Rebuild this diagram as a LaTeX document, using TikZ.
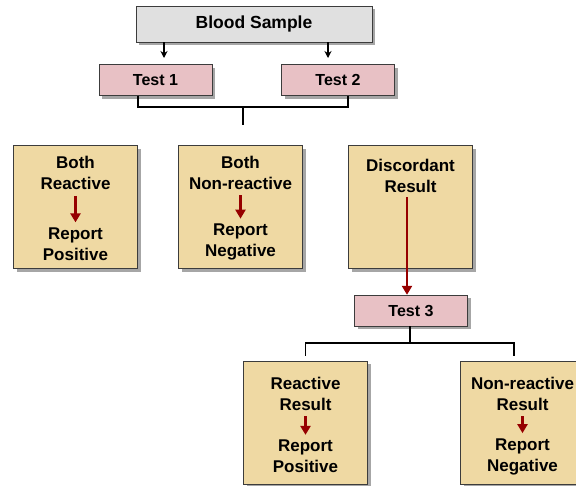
\documentclass[tikz,border=0pt]{standalone}
\usepackage{fontspec}
\setmainfont{Liberation Sans}
\usetikzlibrary{shadows,arrows.meta}
\definecolor{papyrus}{RGB}{239,217,163}
\definecolor{testpink}{RGB}{232,193,197}
\definecolor{marble}{RGB}{224,224,224}
\definecolor{edgegray}{RGB}{60,60,60}
\definecolor{arrowred}{RGB}{150,0,0}

\begin{document}
\begin{tikzpicture}[
        x=1pt, y=-1pt,
        boldtext/.style={font=\fontsize{17}{21}\selectfont\bfseries},
        sample/.style={rectangle, draw=edgegray, fill=marble, minimum width=236pt, minimum height=36pt, font=\fontsize{17.5}{21}\selectfont\bfseries, drop shadow={shadow xshift=3pt, shadow yshift=-3pt, fill=gray, opacity=0.7}},
        test/.style={rectangle, draw=edgegray, fill=testpink, minimum width=113pt, minimum height=31pt, font=\fontsize{16}{20}\selectfont\bfseries, drop shadow={shadow xshift=3pt, shadow yshift=-3pt, fill=gray, opacity=0.7}},
        result/.style={rectangle, draw=edgegray, fill=papyrus, minimum width=124pt, minimum height=123pt, drop shadow={shadow xshift=3pt, shadow yshift=-3pt, fill=gray, opacity=0.7}},
        label/.style={align=center, inner sep=1pt, boldtext},
        feed/.style={-{Stealth[length=7pt, width=7pt]}, line width=1.3pt, black},
        report/.style={-{Triangle[length=9pt, width=10pt]}, line width=2.8pt, color=arrowred},
        bracket/.style={line width=1.7pt, black}
    ]
    \useasboundingbox (0,0) rectangle (576,485);

    % Sample and first two tests
    \node[sample] (blood) at (254,24) {Blood Sample};
    \node[test] (test1) at (155.5,80) {Test 1};
    \node[test] (test2) at (338,80) {Test 2};
    \coordinate (in1) at (164,58);
    \coordinate (in2) at (328,58);
    \draw[feed] (blood.south -| in1) -- (in1);
    \draw[feed] (blood.south -| in2) -- (in2);

    % Join of Test 1 and Test 2
    \coordinate (join1) at (243,107);
    \draw[bracket] ([xshift=-17.5pt]test1.south) |- (join1) -| ([xshift=10pt]test2.south);
    \draw[bracket] (join1) -- ++(0,18);

    % Outcome boxes
    \node[result] (both) at (75.5,207) {};
    \node[label] (bothtop) at (75.5,173) {Both\\Reactive};
    \node[label] (bothbot) at (75.5,244) {Report\\Positive};
    \draw[report, shorten <=5pt, shorten >=4pt] (bothtop) -- (bothbot);

    \node[result] (none) at (240.5,207) {};
    \node[label] (nonetop) at (240.5,172.5) {Both\\Non-reactive};
    \node[label] (nonebot) at (240.5,242) {Report\\Negative};
    \draw[report, shorten <=5pt, shorten >=4pt] (nonetop) -- (nonebot);

    \node[result] (disc) at (410.5,207) {};
    \node[label] (disctop) at (410.5,175.5) {Discordant\\Result};

    % Third test
    \node[test] (test3) at (411,310.5) {Test 3};
    \draw[report, shorten <=4pt] (disctop.south -| 407,0) -- (test3.north -| 407,0);

    % Final results
    \node[result] (final1) at (305.5,422.5) {};
    \node[label] (final1top) at (305.5,393.5) {Reactive\\Result};
    \node[label] (final1bot) at (305.5,456.5) {Report\\Positive};
    \draw[report, shorten <=5pt, shorten >=4pt] (final1top) -- (final1bot);

    \node[result] (final2) at (522.5,422.5) {};
    \node[label] (final2top) at (522.5,393.5) {Non-reactive\\Result};
    \node[label] (final2bot) at (522.5,456.5) {Report\\Negative};
    \draw[report, shorten <=5pt, shorten >=4pt] (final2top) -- (final2bot);

    % Join below Test 3
    \coordinate (join2) at (410,343);
    \draw[bracket] (test3.south -| join2) -- (join2);
    \draw[bracket] ([yshift=5pt]final1.north) |- (join2) -| ([xshift=-8.5pt, yshift=5pt]final2.north);

\end{tikzpicture}
\end{document}
